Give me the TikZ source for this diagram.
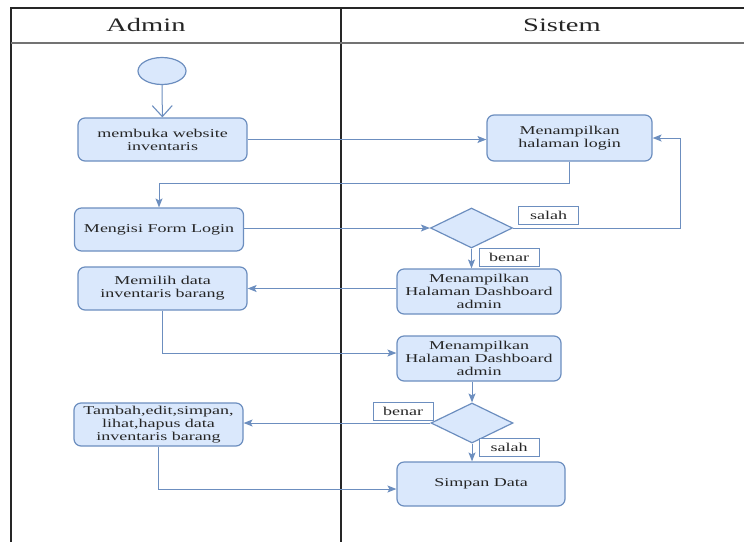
\documentclass[tikz,border=0pt]{standalone}
\usepackage{fontspec}
\setmainfont{Liberation Serif}[FakeStretch=1.5]
\usetikzlibrary{arrows.meta,shapes.geometric}

\definecolor{boxfill}{HTML}{DAE8FC}
\definecolor{boxline}{HTML}{6C8EBF}
\definecolor{inktext}{HTML}{262626}

\tikzset{
  act/.style={draw=boxline, fill=boxfill, line width=1.2pt, rounded corners=7pt,
    align=center, inner sep=0pt, text=inktext, font=\fontsize{12}{13}\selectfont},
  decision/.style={diamond, draw=boxline, fill=boxfill, line width=1.2pt,
    inner sep=0pt, minimum width=82pt, minimum height=40pt},
  guard/.style={draw=boxline, fill=white, line width=0.9pt, inner sep=0pt,
    minimum width=60pt, minimum height=18pt, text=inktext,
    font=\fontsize{12}{13}\selectfont},
  startnode/.style={ellipse, draw=boxline, fill=boxfill, line width=1.2pt,
    minimum width=48pt, minimum height=27pt, inner sep=0pt},
  flow/.style={draw=boxline, line width=1pt,
    -{Stealth[length=9pt,width=7pt,inset=2pt]}},
  openflow/.style={draw=boxline, line width=1pt,
    -{Straight Barb[length=11pt,width=20pt,line width=1.1pt]}},
  lane/.style={draw=black!85, line width=1.4pt},
  headrule/.style={draw=black!55, line width=2pt},
  header/.style={text=inktext, font=\fontsize{19}{21}\selectfont, inner sep=0pt}
}

\begin{document}
\begin{tikzpicture}[x=1pt, y=-1pt]
  \useasboundingbox (0,0) rectangle (744,542);

  % swimlane frame
  \draw[lane] (11,542) -- (11,8) -- (744,8);
  \draw[lane] (341,8) -- (341,542);
  \draw[headrule] (11,43) -- (744,43);
  \node[header] (hAdmin) at (146,25) {Admin};
  \node[header] (hSistem) at (562,25) {Sistem};

  % activities
  \node[startnode] (start) at (162,71) {};
  \node[act, minimum width=169pt, minimum height=43pt] (buka) at (162.5,139.5)
    {membuka website\\inventaris};
  \node[act, minimum width=165pt, minimum height=46pt] (login) at (569.5,138)
    {Menampilkan\\halaman login};
  \node[act, minimum width=169pt, minimum height=43pt] (isi) at (159,229.5)
    {Mengisi Form Login};
  \node[decision] (cek1) at (471.5,228) {};
  \node[guard] (salah1) at (548.5,215.5) {salah};
  \node[guard] (benar1) at (509,257.5) {benar};
  \node[act, minimum width=164pt, minimum height=45pt] (dash1) at (479,291.5)
    {Menampilkan\\Halaman Dashboard\\admin};
  \node[act, minimum width=169pt, minimum height=43pt] (pilih) at (162.5,288.5)
    {Memilih data\\inventaris barang};
  \node[act, minimum width=164pt, minimum height=45pt] (dash2) at (479,358.5)
    {Menampilkan\\Halaman Dashboard\\admin};
  \node[decision] (cek2) at (472,423) {};
  \node[guard] (benar2) at (403,411) {benar};
  \node[guard] (salah2) at (509,447) {salah};
  \node[act, minimum width=169pt, minimum height=43pt] (kelola) at (158.5,424.5)
    {Tambah,edit,simpan,\\lihat,hapus data\\inventaris barang};
  \node[act, minimum width=168pt, minimum height=44pt] (simpan) at (481,484)
    {Simpan Data};

  % routing points
  \coordinate (j1) at (0,183.5);
  \coordinate (r1) at (680,0);
  \coordinate (j2) at (0,353);
  \coordinate (j3) at (0,489);

  % connectors
  \draw[openflow] (start) -- (buka);
  \draw[flow] (buka.east) -- (buka.east -| login.west);
  \draw[flow] (login.south) |- (j1 -| isi.north) -- (isi.north);
  \draw[flow] (isi.east |- cek1.west) -- (cek1.west);
  \draw[flow] (cek1.east) -| (r1 |- login.east) -- (login.east);
  \draw[flow] (cek1.south) -- (cek1.south |- dash1.north);
  \draw[flow] (pilih.east -| dash1.west) -- (pilih.east);
  \draw[flow] (pilih.south) |- (j2 -| dash2.west);
  \draw[flow] (cek2.north |- dash2.south) -- (cek2.north);
  \draw[flow] (cek2.west) -- (cek2.west -| kelola.east);
  \draw[flow] (cek2.south) -- (cek2.south |- simpan.north);
  \draw[flow] (kelola.south) |- (j3 -| simpan.west);
\end{tikzpicture}
\end{document}
